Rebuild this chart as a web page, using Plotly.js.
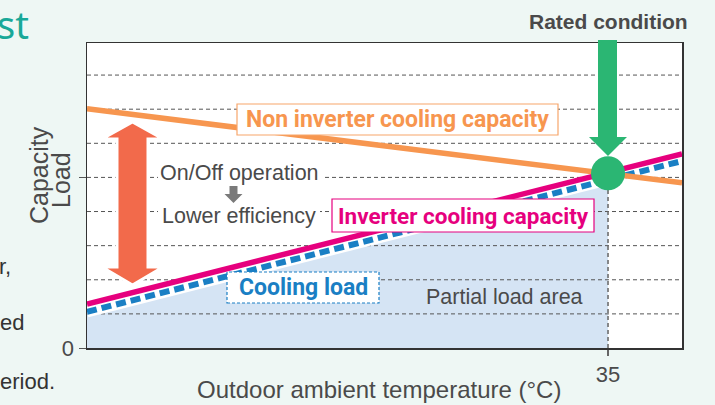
<!DOCTYPE html>
<html>
<head>
<meta charset="utf-8">
<script src="https://cdn.plot.ly/plotly-3.0.1.min.js"></script>
<style>
html,body{margin:0;padding:0;background:#eef7f4;}
#chart{width:715px;height:405px;}
</style>
</head>
<body>
<div id="chart"></div>
<script>
// ---- data ----
const tempX = [10, 35, 38.55];                 // outdoor temperature (°C)
const nonInverterCap = [7.01, 5.12, 4.84];     // non inverter cooling capacity
const inverterCap = [1.29, 5.12, 5.69];        // inverter cooling capacity
const coolingLoad = [1.06, 4.93, 5.48];        // cooling load
const ratedTemp = [35];
const ratedCap = [5.12];
const gridVals = [1, 2, 3, 4, 5, 6, 7, 8];
const xTickVals = [35];
const xTickText = ['35'];
const yTickVals = [0, 5];
const yTickText = ['0', ''];

const xRange = [10, 38.55];
const yRange = [0, 8.94];

// ---- layout helpers (pixel -> paper) ----
const L = 87, R = 682, T = 43, B = 348;
const X = px => (px - L) / (R - L);
const Y = py => (B - py) / (B - T);
const pathPx = pts => 'M' + pts.map(p => X(p[0]).toFixed(5) + ',' + Y(p[1]).toFixed(5)).join(' L') + ' Z';

const SANS = 'Liberation Sans, Arial, sans-serif';
const DIN = 'Roboto, sans-serif';
const GRAY = '#4a4a4a';

// gridline trace (drawn above the fill, below the curves)
const gx = [], gy = [];
gridVals.forEach(v => { gx.push(xRange[0], xRange[1], null); gy.push(v, v, null); });

const traces = [
  { x: tempX.slice(0, 2), y: coolingLoad.slice(0, 2), mode: 'lines', fill: 'tozeroy',
    fillcolor: '#d5e4f4', line: { width: 0 }, hoverinfo: 'skip' },
  { x: gx, y: gy, mode: 'lines', line: { color: '#555', width: 1, dash: '4px,3px' }, hoverinfo: 'skip' },
  { x: [ratedTemp[0], ratedTemp[0]], y: [0, ratedCap[0]], mode: 'lines',
    line: { color: '#666', width: 1.5, dash: '4px,3px' }, hoverinfo: 'skip' },
  { x: tempX, y: coolingLoad, mode: 'lines', line: { color: '#ffffff', width: 11 }, hoverinfo: 'skip' },
  { x: tempX, y: coolingLoad, mode: 'lines', line: { color: '#1a7fc4', width: 6, dash: '10px,5px' } },
  { x: tempX, y: nonInverterCap, mode: 'lines', line: { color: '#f7964f', width: 5.5 } },
  { x: tempX, y: inverterCap, mode: 'lines', line: { color: '#e6007e', width: 5.5 } },
  { x: ratedTemp, y: ratedCap, mode: 'markers', marker: { size: 34, color: '#2bb673' } }
];

const rectPx = (x0, y0, x1, y1, fill, line) => ({
  type: 'rect', xref: 'paper', yref: 'paper', layer: 'above',
  x0: X(x0), x1: X(x1), y0: Y(y1), y1: Y(y0), fillcolor: fill, line: line
});

const shapes = [
  // white backing behind the two operation texts
  rectPx(158, 164, 324, 184, '#ffffff', { width: 0 }),
  rectPx(158, 206, 320, 227, '#ffffff', { width: 0 }),
  // double arrow (On/Off)
  { type: 'path', xref: 'paper', yref: 'paper', layer: 'above',
    path: pathPx([[132.5,122],[163,139],[148,139],[148,267],[163,267],[132.5,285],[102,267],[117,267],[117,139],[102,139]]),
    fillcolor: '#f26a4b', line: { color: '#ffffff', width: 3 } },
  // green arrow (rated condition)
  { type: 'path', xref: 'paper', yref: 'paper', layer: 'above',
    path: pathPx([[598,40],[617,40],[617,137],[627,137],[608,156],[589,137],[598,137]]),
    fillcolor: '#2bb673', line: { width: 0 } },
  // small gray arrow
  { type: 'path', xref: 'paper', yref: 'paper', layer: 'above',
    path: pathPx([[229.5,186],[237.5,186],[237.5,194],[242.5,194],[233.5,203],[224.5,194],[229.5,194]]),
    fillcolor: '#7a7a7a', line: { width: 0 } },
  // label boxes
  rectPx(237, 104, 558, 135, '#ffffff', { color: '#f7a66b', width: 1.2 }),
  rectPx(332, 199, 594, 232, '#ffffff', { color: '#e6007e', width: 1.2 }),
  rectPx(227, 272, 379, 303, '#ffffff', { color: '#1a7fc4', width: 1.2, dash: '3px,2px' })
];

const ann = (px, py, text, font, extra) => Object.assign({
  xref: 'paper', yref: 'paper', x: X(px), y: Y(py), text: text, showarrow: false,
  xanchor: 'center', yanchor: 'middle', font: font
}, extra || {});

const annotations = [
  ann(608, 22, '<b>Rated condition</b>', { family: SANS, size: 21, color: GRAY }),
  ann(397.5, 119.5, '<b>Non inverter cooling capacity</b>', { family: DIN, size: 23, color: '#f7964f' }),
  ann(463, 215.5, '<b>Inverter cooling capacity</b>', { family: DIN, size: 22.5, color: '#e6007e' }),
  ann(303, 287.5, '<b>Cooling load</b>', { family: DIN, size: 23, color: '#1a7fc4' }),
  ann(505, 297, 'Partial load area', { family: SANS, size: 21.5, color: GRAY }),
  ann(240, 173, 'On/Off operation', { family: SANS, size: 21.5, color: GRAY }),
  ann(238.5, 216, 'Lower efficiency', { family: SANS, size: 21.5, color: GRAY }),
  ann(39, 175, 'Capacity', { family: SANS, size: 25, color: GRAY }, { textangle: -90 }),
  ann(61, 180, 'Load', { family: SANS, size: 25, color: GRAY }, { textangle: -90 }),
  ann(378.5, 389, 'Outdoor ambient temperature (°C)', { family: SANS, size: 24, color: GRAY }),
  // fragments of the surrounding page
  ann(31, 24, 'st', { family: 'Noto Sans, sans-serif', size: 38, color: '#19a898' }, { xanchor: 'right' }),
  ann(13, 266, 'r,', { family: SANS, size: 22, color: '#333' }, { xanchor: 'right' }),
  ann(26, 322, 'ed', { family: SANS, size: 22, color: '#333' }, { xanchor: 'right' }),
  ann(57, 381, 'eriod.', { family: SANS, size: 22, color: '#333' }, { xanchor: 'right' })
];

const layout = {
  width: 715, height: 405,
  margin: { l: L, r: 715 - R, t: T, b: 405 - B, pad: 0 },
  paper_bgcolor: '#eef7f4', plot_bgcolor: '#ffffff',
  showlegend: false,
  xaxis: {
    range: xRange, showgrid: false, zeroline: false,
    showline: true, mirror: true, linecolor: '#333', linewidth: 1.5,
    tickmode: 'array', tickvals: xTickVals, ticktext: xTickText,
    ticks: 'outside', ticklen: 6, tickcolor: '#666', tickwidth: 1.5,
    tickfont: { family: SANS, size: 22, color: GRAY }
  },
  yaxis: {
    range: yRange, showgrid: false, zeroline: false,
    showline: true, mirror: true, linecolor: '#333', linewidth: 1.5,
    tickmode: 'array', tickvals: yTickVals, ticktext: yTickText,
    ticks: 'outside', ticklen: 7, tickcolor: '#555', tickwidth: 1,
    tickfont: { family: SANS, size: 22, color: GRAY }
  },
  shapes: shapes,
  annotations: annotations
};

Plotly.newPlot('chart', traces, layout, { displayModeBar: false, staticPlot: true });
</script>
</body>
</html>
